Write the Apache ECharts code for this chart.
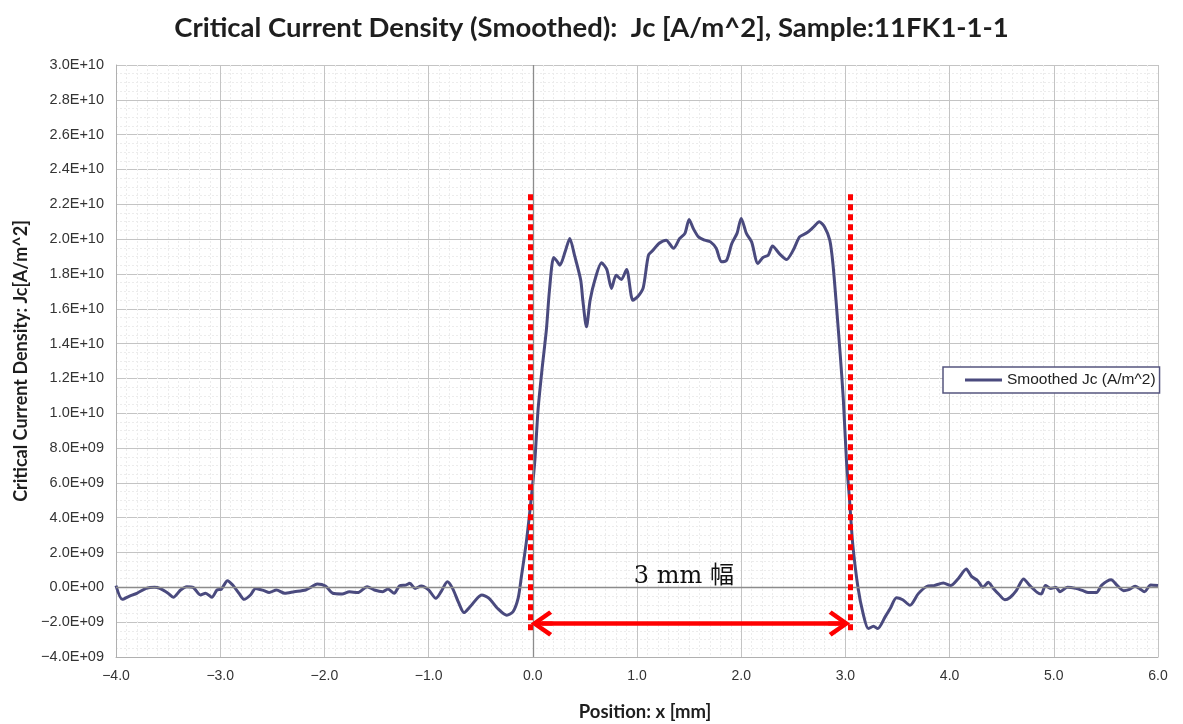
<!DOCTYPE html>
<html>
<head>
<meta charset="utf-8">
<script src="https://cdn.jsdelivr.net/npm/echarts@6/dist/echarts.min.js"></script>
<style>
html,body{margin:0;padding:0;background:#fff;}
#chart{width:1183px;height:724px;}
</style>
</head>
<body>
<div id="chart"></div>
<script>
// ---- Data (position in mm, Jc in A/m^2) ----
const positions = [
 -4.00,-3.94,-3.87,-3.80,-3.71,-3.63,-3.58,-3.50,-3.45,-3.38,-3.32,-3.26,-3.19,-3.14,-3.08,-3.03,-2.99,-2.93,-2.88,-2.82,
 -2.77,-2.71,-2.66,-2.58,-2.53,-2.46,-2.38,-2.29,-2.18,-2.12,-2.07,-1.99,-1.92,-1.83,-1.76,-1.68,-1.59,-1.52,-1.44,-1.39,
 -1.33,-1.28,-1.22,-1.18,-1.13,-1.07,-1.00,-0.93,-0.88,-0.82,-0.77,-0.71,-0.66,-0.60,-0.49,-0.42,-0.34,-0.25,-0.19,-0.14,
 -0.11,-0.06,-0.01,0.02,0.05,0.09,0.13,0.16,0.20,0.23,0.26,0.31,0.355,0.40,0.46,0.48,0.515,0.55,0.595,0.66,
 0.71,0.755,0.80,0.85,0.90,0.96,1.01,1.06,1.11,1.155,1.21,1.28,1.35,1.41,1.46,1.50,1.54,1.59,1.65,1.705,
 1.76,1.81,1.86,1.91,1.96,2.00,2.05,2.10,2.16,2.21,2.26,2.30,2.37,2.435,2.50,2.56,2.63,2.69,2.75,2.80,
 2.85,2.88,2.915,2.95,2.98,3.01,3.04,3.07,3.12,3.17,3.22,3.27,3.31,3.38,3.43,3.49,3.55,3.62,3.70,3.78,
 3.85,3.94,4.01,4.08,4.16,4.21,4.27,4.32,4.37,4.42,4.47,4.53,4.58,4.64,4.71,4.77,4.84,4.88,4.92,4.97,
 5.02,5.06,5.13,5.21,5.28,5.33,5.41,5.46,5.55,5.61,5.67,5.72,5.78,5.83,5.87,5.93,6.00
];
const jcSmoothed = [
 0.1e9,-0.69e9,-0.5e9,-0.34e9,-0.06e9,0.0e9,-0.06e9,-0.34e9,-0.57e9,-0.15e9,0.04e9,0.0e9,-0.44e9,-0.34e9,-0.57e9,-0.15e9,-0.11e9,0.38e9,0.13e9,-0.34e9,
 -0.69e9,-0.44e9,-0.06e9,-0.19e9,-0.30e9,-0.15e9,-0.34e9,-0.25e9,-0.15e9,0.04e9,0.19e9,0.08e9,-0.34e9,-0.38e9,-0.25e9,-0.30e9,0.04e9,-0.15e9,-0.25e9,-0.10e9,
 -0.34e9,0.08e9,0.13e9,0.23e9,-0.06e9,0.08e9,-0.15e9,-0.63e9,-0.25e9,0.32e9,-0.06e9,-0.91e9,-1.45e9,-1.10e9,-0.44e9,-0.63e9,-1.20e9,-1.60e9,-1.40e9,-0.60e9,
 0.59e9,2.7e9,5.39e9,7.3e9,10.17e9,12.6e9,14.77e9,17.07e9,18.95e9,18.75e9,18.5e9,19.27e9,20.04e9,19.08e9,17.64e9,16.49e9,14.96e9,16.49e9,17.64e9,18.64e9,
 18.26e9,17.17e9,17.93e9,17.68e9,18.26e9,16.49e9,16.72e9,17.22e9,19.08e9,19.37e9,19.75e9,19.94e9,19.47e9,20.04e9,20.33e9,21.13e9,20.61e9,20.13e9,19.94e9,19.84e9,
 19.47e9,18.70e9,18.79e9,19.75e9,20.33e9,21.19e9,20.33e9,19.84e9,18.60e9,18.95e9,19.08e9,19.60e9,19.14e9,18.83e9,19.37e9,20.13e9,20.36e9,20.67e9,21.0e9,20.7e9,
 19.94e9,18.60e9,16.1e9,13.4e9,10.8e9,7.3e9,5.0e9,2.51e9,0.02e9,-1.51e9,-2.37e9,-2.24e9,-2.37e9,-1.71e9,-1.22e9,-0.59e9,-0.71e9,-1.03e9,-0.36e9,0.05e9,
 0.1e9,0.25e9,0.1e9,0.48e9,1.05e9,0.63e9,0.38e9,0.0e9,0.29e9,-0.06e9,-0.38e9,-0.71e9,-0.58e9,-0.19e9,0.48e9,0.1e9,-0.29e9,-0.38e9,0.1e9,-0.06e9,
 0.0e9,-0.25e9,0.0e9,-0.06e9,-0.19e9,-0.29e9,-0.29e9,0.13e9,0.44e9,0.1e9,-0.19e9,-0.13e9,0.06e9,-0.1e9,-0.25e9,0.13e9,0.1e9
];
const seriesName = 'Smoothed Jc (A/m^2)';
const titleText = 'Critical Current Density (Smoothed):  Jc [A/m^2], Sample:11FK1-1-1';
const xAxisTitle = 'Position: x [mm]';
const yAxisTitle = 'Critical Current Density: Jc[A/m^2]';
const xRange = [-4, 6];      // mm, step 1
const yRange = [-4e9, 3e10]; // A/m^2, step 2e9
// Annotation (red band marking the 3 mm width)
const bandEdges = [-0.02, 3.05];
const bandSpan = [-2.47e9, 22.8e9];
const arrowEnds = [0.085, 2.94];
const arrowLevel = -2.07e9;
const bandLabel = '3 mm 幅';
const bandLabelPos = [1.45, 0.6e9];

function fmtY(v){
  if (Math.abs(v) < 1) return '0.0E+00';
  const s = v.toExponential(1);
  const parts = s.split('e');
  const n = parseInt(parts[1], 10);
  return parts[0].replace('-', '\u2212') + 'E' + (n < 0 ? '-' : '+') + String(Math.abs(n)).padStart(2, '0');
}
function fmtX(v){
  return v.toFixed(1).replace('-', '\u2212');
}

// open chevron arrow head (pointing up; rotated by markLine), with a short stem
const chevron = 'path://M13,0 L26,18.5 L22.6,21.5 L15,10.5 L15,22 L11,22 L11,10.5 L3.4,21.5 L0,18.5 Z';

const chart = echarts.init(document.getElementById('chart'), null, {renderer:'canvas'});
chart.setOption({
  animation: false,
  backgroundColor: '#ffffff',
  title: {
    text: titleText,
    left: 'center',
    top: 9,
    textStyle: {fontFamily: 'Lato', fontWeight: 'bold', fontSize: 27.5, color: '#1e1e1e'}
  },
  legend: {
    data: [seriesName],
    left: 943,
    top: 367,
    orient: 'horizontal',
    padding: [5, 4, 5, 22],
    itemWidth: 37,
    itemHeight: 3,
    icon: 'rect',
    backgroundColor: '#ffffff',
    borderColor: '#55557f',
    borderWidth: 1.5,
    textStyle: {fontFamily: 'Liberation Sans', fontSize: 15.5, color: '#222'}
  },
  grid: {left: 116, right: 25, top: 65, bottom: 67, show: false, containLabel: false, outerBoundsMode: 'none'},
  xAxis: {
    type: 'value',
    min: xRange[0], max: xRange[1], interval: 1,
    name: xAxisTitle,
    nameLocation: 'middle',
    nameGap: 46,
    nameTextStyle: {fontFamily: 'Lato', fontWeight: 'bold', fontSize: 18.5, color: '#1e1e1e', padding: [0, 0, 0, 16]},
    axisLine: {show: true, onZero: false, lineStyle: {color: '#b0b0b0', width: 1}},
    axisTick: {show: false},
    axisLabel: {formatter: fmtX, margin: 12, fontFamily: 'Liberation Sans', fontSize: 14, color: '#333'},
    splitLine: {show: true, lineStyle: {color: '#c4c4c4', width: 1}},
    minorTick: {show: false, splitNumber: 10},
    minorSplitLine: {show: true, lineStyle: {color: '#ececec', width: 1, type: [2, 2]}}
  },
  yAxis: {
    type: 'value',
    min: yRange[0], max: yRange[1], interval: 2e9,
    name: yAxisTitle,
    nameLocation: 'middle',
    nameRotate: 90,
    nameGap: 79,
    nameTextStyle: {fontFamily: 'Lato', fontWeight: 'bold', fontSize: 18, color: '#1e1e1e'},
    axisLine: {show: true, onZero: false, lineStyle: {color: '#b0b0b0', width: 1}},
    axisTick: {show: false},
    axisLabel: {formatter: fmtY, margin: 12, fontFamily: 'Liberation Sans', fontSize: 14.5, color: '#333'},
    splitLine: {show: true, lineStyle: {color: '#c4c4c4', width: 1}},
    minorTick: {show: false, splitNumber: 4},
    minorSplitLine: {show: true, lineStyle: {color: '#ececec', width: 1, type: [2, 2]}}
  },
  series: [
    {
      name: 'zero', type: 'line', data: [], silent: true, z: 1,
      markLine: {
        silent: true, symbol: 'none', animation: false,
        label: {show: false},
        lineStyle: {color: '#8c8c8c', width: 1.3, type: 'solid'},
        data: [{xAxis: 0}, {yAxis: 0}]
      }
    },
    {
      name: seriesName,
      type: 'line',
      data: positions.map((x, i) => [x, jcSmoothed[i]]),
      smooth: 0.25,
      showSymbol: false,
      symbol: 'none',
      z: 3,
      lineStyle: {color: '#4a4a7e', width: 3},
      itemStyle: {color: '#4a4a7e'}
    },
    {
      name: 'band', type: 'line', data: [], silent: true, z: 5,
      markLine: {
        silent: true, animation: false,
        label: {show: false},
        symbol: 'none',
        lineStyle: {color: '#ff0000', width: 5, type: [6, 4], cap: 'butt'},
        data: [
          [{coord: [bandEdges[0], bandSpan[0]]}, {coord: [bandEdges[0], bandSpan[1]]}],
          [{coord: [bandEdges[1], bandSpan[0]]}, {coord: [bandEdges[1], bandSpan[1]]}]
        ]
      }
    },
    {
      name: 'arrow', type: 'line', data: [], silent: true, z: 6,
      markLine: {
        silent: true, animation: false,
        label: {show: false},
        symbol: [chevron, chevron],
        symbolSize: [26, 22],
        lineStyle: {color: '#ff0000', width: 4.5, type: 'solid'},
        itemStyle: {color: '#ff0000'},
        data: [
          [{coord: [arrowEnds[0], arrowLevel]}, {coord: [arrowEnds[1], arrowLevel]}]
        ]
      },
      markPoint: {
        silent: true, animation: false,
        symbol: 'circle', symbolSize: 1,
        itemStyle: {color: 'rgba(0,0,0,0)'},
        label: {
          show: true, position: 'inside',
          formatter: bandLabel,
          fontFamily: 'DejaVu Serif, Noto Sans CJK JP',
          fontSize: 24, color: '#111'
        },
        data: [{coord: bandLabelPos}]
      }
    }
  ]
});
</script>
</body>
</html>
